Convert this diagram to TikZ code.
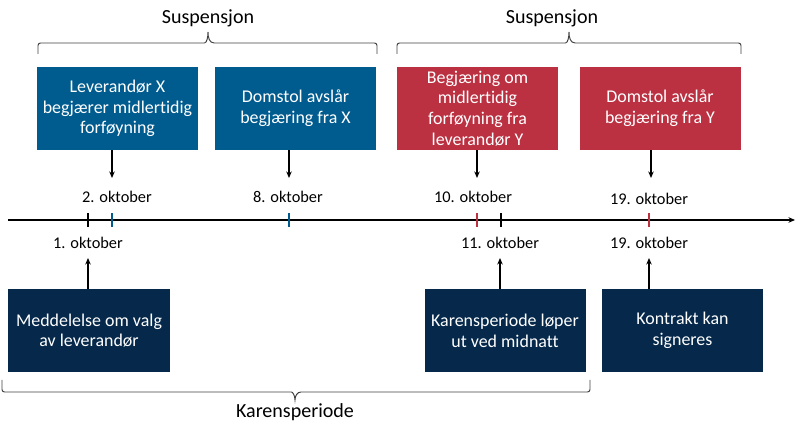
\documentclass[tikz,border=0pt]{standalone}
\usepackage{fontspec}
\setmainfont{Carlito}[Ligatures=NoCommon]
\usetikzlibrary{positioning,arrows.meta}
\definecolor{evblue}{HTML}{005B8F}
\definecolor{evred}{HTML}{BB3142}
\definecolor{evnavy}{HTML}{06294B}
\tikzset{
  wire/.style={line width=0.7pt},
  arr/.style={wire, -{Stealth[length=1.3mm,width=1.1mm]}},
  evbox/.style={minimum width=32.2mm, minimum height=16.6mm, inner sep=1pt, align=center, text=white, font=\fontsize{10.2}{11.8}\selectfont},
  tickmark/.style={line width=1.1pt},
  datelbl/.style={font=\fontsize{9.3}{11}\selectfont, inner sep=1pt},
  brc/.style={draw=black!75, line width=0.55pt},
  brclbl/.style={font=\fontsize{11.4}{13}\selectfont, inner sep=1pt}
}

\begin{document}
\begin{tikzpicture}[x=0.2mm,y=0.2mm]
  \useasboundingbox (0,0) rectangle (800,435);
  % timeline
  \coordinate (tl0) at (8,215);
  \coordinate (tl1) at (795,215);
  \draw[wire,line width=0.8pt,-{Stealth[length=1.3mm,width=1.1mm]}] (tl0) -- (tl1);
  \coordinate (t1) at (88,215);
  \coordinate (t2) at (112,215);
  \coordinate (t8) at (289,215);
  \coordinate (t10) at (477,215);
  \coordinate (t11) at (501,215);
  \coordinate (t19) at (649,215);
  \draw[tickmark] (t1) ++(0,-7) -- ++(0,14);
  \draw[tickmark] (t11) ++(0,-7) -- ++(0,14);
  \draw[tickmark,evblue] (t2) ++(0,-7) -- ++(0,14);
  \draw[tickmark,evblue] (t8) ++(0,-7) -- ++(0,14);
  \draw[tickmark,evred] (t10) ++(0,-7) -- ++(0,14);
  \draw[tickmark,evred] (t19) ++(0,-7) -- ++(0,14);

  % dates
  \node[datelbl] (d2) at (117,238) {2. oktober};
  \node[datelbl] (d8) at (288,238) {8. oktober};
  \node[datelbl] (d10) at (473,238) {10. oktober};
  \node[datelbl] (d19a) at (649,236) {19. oktober};
  \node[datelbl] (d1) at (88,192) {1. oktober};
  \node[datelbl] (d11) at (500,192) {11. oktober};
  \node[datelbl] (d19b) at (649,192) {19. oktober};

  % top boxes
  \node[evbox,fill=evblue] (b1) at (117.5,326.5) {Leverandør X\\begjærer midlertidig\\forføyning};
  \node[evbox,fill=evblue] (b2) at (295.5,326.5) {Domstol avslår\\begjæring fra X};
  \node[evbox,fill=evred] (b3) at (477.5,326.5) {Begjæring om\\midlertidig\\forføyning fra\\leverandør Y};
  \node[evbox,fill=evred] (b4) at (660,326.5) {Domstol avslår\\begjæring fra Y};

  % bottom boxes
  \node[evbox,fill=evnavy] (bA) at (89,104.5) {Meddelelse om valg\\av leverandør};
  \node[evbox,fill=evnavy] (bB) at (505,104.5) {Karensperiode løper\\ut ved midnatt};
  \node[evbox,fill=evnavy] (bC) at (682.5,104.5) {Kontrakt kan\\signeres};

  % arrows
  \coordinate (e2) at (112,257);
  \coordinate (e8) at (289,257);
  \coordinate (e10) at (477,257);
  \coordinate (e19) at (651,257);
  \draw[arr] (b1.south -| e2) -- (e2);
  \draw[arr] (b2.south -| e8) -- (e8);
  \draw[arr] (b3.south -| e10) -- (e10);
  \draw[arr] (b4.south -| e19) -- (e19);
  \coordinate (s1) at (88,177);
  \coordinate (s11) at (500,177);
  \coordinate (s19) at (649,177);
  \draw[arr] (bA.north -| s1) -- (s1);
  \draw[arr] (bB.north -| s11) -- (s11);
  \draw[arr] (bC.north -| s19) -- (s19);

  % braces
  \draw[brc] (38,381) [rounded corners=0.5mm] -- (38,392) -- (202,392) [sharp corners]
    to[out=0,in=-90] (208,403) to[out=-90,in=180] (214,392) [rounded corners=0.5mm] -- (377,392) -- (377,381);
  \draw[brc] (397,381) [rounded corners=0.5mm] -- (397,392) -- (563,392) [sharp corners]
    to[out=0,in=-90] (569,403) to[out=-90,in=180] (575,392) [rounded corners=0.5mm] -- (741,392) -- (741,381);
  \node[brclbl] (sus1) at (208,417) {Suspensjon};
  \node[brclbl] (sus2) at (552,417) {Suspensjon};
  \draw[brc] (2,55) [rounded corners=0.5mm] -- (2,43) -- (289,43) [sharp corners]
    to[out=0,in=90] (295,35) to[out=90,in=180] (301,43) [rounded corners=0.5mm] -- (590,43) -- (590,55);
  \node[brclbl] (kar) at (295,23) {Karensperiode};
\end{tikzpicture}
\end{document}
